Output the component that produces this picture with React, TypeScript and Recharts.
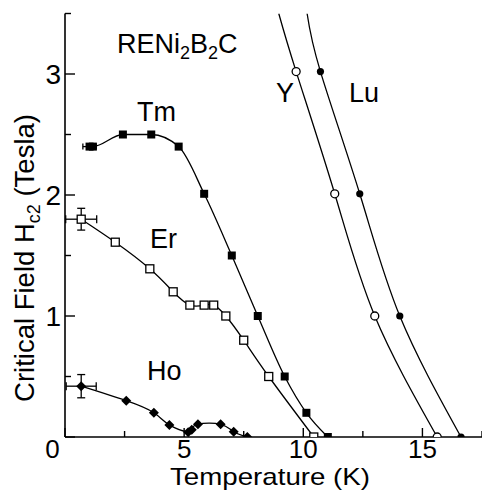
import React from 'react';
import { ComposedChart, Line, Scatter, XAxis, YAxis, ErrorBar } from 'recharts';

const FONT = '"Liberation Sans", Arial, Helvetica, sans-serif';

// Axis ticks
const xTicks = [0, 2.5, 5, 7.5, 10, 12.5, 15, 17.5];
const xLabels = [0, 5, 10, 15];
const yTicks = [0, 0.5, 1, 1.5, 2, 2.5, 3, 3.5];
const yLabels = [1, 2, 3];

// Tm (filled squares)
const tmT = [1.03, 1.17, 2.43, 3.62, 4.77, 5.84, 7.0, 8.09, 9.22, 10.13, 11.03];
const tmH = [2.4, 2.4, 2.5, 2.5, 2.4, 2.01, 1.5, 1.0, 0.5, 0.2, 0];
const tmErrT = [1.03];
const tmErrH = [2.4];
const tmErrX = [0.28];
const tmErrY = [0];

// Er (open squares)
const erT = [0.68, 2.11, 3.56, 4.54, 5.24, 5.84, 6.24, 6.75, 7.5, 8.55, 10.44];
const erH = [1.8, 1.61, 1.39, 1.2, 1.09, 1.09, 1.09, 1.0, 0.8, 0.5, 0];
const erErrT = [0.68];
const erErrH = [1.8];
const erErrX = [0.65];
const erErrY = [0.09];

// Ho (filled diamonds)
const hoT = [0.68, 2.57, 3.73, 4.38, 5.17, 5.32, 5.58, 6.53, 7.08, 7.65];
const hoH = [0.42, 0.3, 0.2, 0.1, 0.04, 0.06, 0.105, 0.105, 0.044, 0];
const hoErrT = [0.68];
const hoErrH = [0.42];
const hoErrX = [0.63];
const hoErrY = [0.096];

// Y (open circles); first entry is where the curve leaves the frame (no marker)
const yCurveT = [8.97, 9.7, 11.32, 13.0, 15.62];
const yCurveH = [3.5, 3.02, 2.01, 1.0, 0];
const yMarkT = [9.7, 11.32, 13.0, 15.62];
const yMarkH = [3.02, 2.01, 1.0, 0];

// Lu (filled circles)
const luCurveT = [10.16, 10.72, 12.37, 14.05, 16.62];
const luCurveH = [3.5, 3.02, 2.01, 1.0, 0];
const luMarkT = [10.72, 12.37, 14.05, 16.62];
const luMarkH = [3.02, 2.01, 1.0, 0];

const pts = (T: number[], H: number[]) => T.map((t, i) => ({ T: t, H: H[i] }));
const errPts = (T: number[], H: number[], ex: number[], ey: number[]) =>
  T.map((t, i) => ({ T: t, H: H[i], ex: ex[i] || undefined, ey: ey[i] || undefined }));

const BottomTick = (props: any) => {
  const { x, y, payload } = props;
  const v = payload.value;
  const major = v % 5 === 0;
  return (
    <g>
      <line x1={x} y1={y} x2={x} y2={y - (major ? 9 : 6)} stroke="#000" strokeWidth={1.4} />
      {xLabels.includes(v) && (
        <text x={v === 0 ? x - 12.5 : x} y={y + 21} textAnchor="middle" fontSize={26} fontFamily={FONT} fill="#000">
          {v}
        </text>
      )}
    </g>
  );
};

const TopTick = (props: any) => {
  const { x, y, payload } = props;
  const major = payload.value % 5 === 0;
  return <line x1={x} y1={y} x2={x} y2={y + (major ? 9 : 6)} stroke="#000" strokeWidth={1.4} />;
};

const LeftTick = (props: any) => {
  const { x, y, payload } = props;
  const v = payload.value;
  const major = Number.isInteger(v);
  return (
    <g>
      <line x1={x} y1={y} x2={x + (major ? 10 : 6)} y2={y} stroke="#000" strokeWidth={1.4} />
      {yLabels.includes(v) && (
        <text x={x - 4} y={y + 10} textAnchor="end" fontSize={28} fontFamily={FONT} fill="#000">
          {v}
        </text>
      )}
    </g>
  );
};

const RightTick = (props: any) => {
  const { x, y, payload } = props;
  const major = Number.isInteger(payload.value);
  return <line x1={x} y1={y} x2={x - (major ? 10 : 6)} y2={y} stroke="#000" strokeWidth={1.4} />;
};

const FilledSquare = (p: any) => <rect x={p.cx - 4} y={p.cy - 4} width={8} height={8} fill="#000" />;
const OpenSquare = (p: any) => (
  <rect x={p.cx - 4} y={p.cy - 4} width={8} height={8} fill="#fff" stroke="#000" strokeWidth={1.3} />
);
const Diamond = (p: any) => (
  <path d={`M${p.cx},${p.cy - 5}L${p.cx + 5},${p.cy}L${p.cx},${p.cy + 5}L${p.cx - 5},${p.cy}Z`} fill="#000" />
);
const OpenCircle = (p: any) => <circle cx={p.cx} cy={p.cy} r={4} fill="#fff" stroke="#000" strokeWidth={1.3} />;
const FilledCircle = (p: any) => <circle cx={p.cx} cy={p.cy} r={3.6} fill="#000" />;
const NoShape = () => <g />;

const lineProps = {
  dataKey: 'H',
  stroke: '#000',
  strokeWidth: 1.3,
  dot: false,
  activeDot: false,
  isAnimationActive: false,
  legendType: 'none' as const,
};

export default function App() {
  return (
    <div style={{ position: 'fixed', left: 0, top: 0, width: 482, height: 490, background: '#fff' }}>
      <ComposedChart
        width={482}
        height={490}
        margin={{ top: 13.5, right: 0, bottom: 0, left: 0 }}
      >
        <XAxis
          xAxisId="b"
          dataKey="T"
          type="number"
          domain={[0, 17.5]}
          ticks={xTicks}
          interval={0}
          allowDataOverflow
          height={53}
          tickSize={0}
          tickMargin={0}
          tickLine={false}
          axisLine={{ stroke: '#000', strokeWidth: 1.6 }}
          tick={(p: any) => <BottomTick {...p} />}
        />
        <XAxis
          xAxisId="t"
          orientation="top"
          dataKey="T"
          type="number"
          domain={[0, 17.5]}
          ticks={xTicks}
          interval={0}
          allowDataOverflow
          height={0}
          tickSize={0}
          tickMargin={0}
          tickLine={false}
          axisLine={{ stroke: '#000', strokeWidth: 1.4 }}
          tick={(p: any) => <TopTick {...p} />}
        />
        <YAxis
          yAxisId="l"
          type="number"
          domain={[0, 3.5]}
          ticks={yTicks}
          interval={0}
          allowDataOverflow
          width={65}
          tickSize={0}
          tickMargin={0}
          tickLine={false}
          axisLine={{ stroke: '#000', strokeWidth: 1.6 }}
          tick={(p: any) => <LeftTick {...p} />}
        />
        <YAxis
          yAxisId="r"
          orientation="right"
          type="number"
          domain={[0, 3.5]}
          ticks={yTicks}
          interval={0}
          allowDataOverflow
          width={0}
          tickSize={0}
          tickMargin={0}
          tickLine={false}
          axisLine={false}
          tick={(p: any) => <RightTick {...p} />}
        />

        <Line {...lineProps} xAxisId="b" yAxisId="l" data={pts(tmT, tmH)} type="monotone" />
        <Line {...lineProps} xAxisId="b" yAxisId="l" data={pts(erT, erH)} type="natural" />
        <Line {...lineProps} xAxisId="b" yAxisId="l" data={pts(hoT, hoH)} type="natural" />
        <Line {...lineProps} xAxisId="b" yAxisId="l" data={pts(yCurveT, yCurveH)} type="natural" />
        <Line {...lineProps} xAxisId="b" yAxisId="l" data={pts(luCurveT, luCurveH)} type="natural" />

        <Scatter xAxisId="b" yAxisId="l" dataKey="H" data={errPts(tmErrT, tmErrH, tmErrX, tmErrY)} shape={NoShape} isAnimationActive={false}>
          <ErrorBar dataKey="ex" direction="x" width={3} stroke="#000" strokeWidth={1.3} />
        </Scatter>
        <Scatter xAxisId="b" yAxisId="l" dataKey="H" data={errPts(erErrT, erErrH, erErrX, erErrY)} shape={NoShape} isAnimationActive={false}>
          <ErrorBar dataKey="ex" direction="x" width={4} stroke="#000" strokeWidth={1.3} />
          <ErrorBar dataKey="ey" direction="y" width={4} stroke="#000" strokeWidth={1.3} />
        </Scatter>
        <Scatter xAxisId="b" yAxisId="l" dataKey="H" data={errPts(hoErrT, hoErrH, hoErrX, hoErrY)} shape={NoShape} isAnimationActive={false}>
          <ErrorBar dataKey="ex" direction="x" width={4} stroke="#000" strokeWidth={1.3} />
          <ErrorBar dataKey="ey" direction="y" width={4} stroke="#000" strokeWidth={1.3} />
        </Scatter>

        <Scatter xAxisId="b" yAxisId="l" dataKey="H" data={pts(tmT, tmH)} shape={FilledSquare} isAnimationActive={false} />
        <Scatter xAxisId="b" yAxisId="l" dataKey="H" data={pts(erT, erH)} shape={OpenSquare} isAnimationActive={false} />
        <Scatter xAxisId="b" yAxisId="l" dataKey="H" data={pts(hoT, hoH)} shape={Diamond} isAnimationActive={false} />
        <Scatter xAxisId="b" yAxisId="l" dataKey="H" data={pts(yMarkT, yMarkH)} shape={OpenCircle} isAnimationActive={false} />
        <Scatter xAxisId="b" yAxisId="l" dataKey="H" data={pts(luMarkT, luMarkH)} shape={FilledCircle} isAnimationActive={false} />
      </ComposedChart>

      <svg
        width={482}
        height={490}
        style={{ position: 'absolute', left: 0, top: 0, pointerEvents: 'none' }}
        fontFamily={FONT}
        fill="#000"
      >
        <text x={117} y={53} fontSize={27}>
          RENi<tspan fontSize={18} dy={6}>2</tspan>
          <tspan dy={-6}>B</tspan>
          <tspan fontSize={18} dy={6}>2</tspan>
          <tspan dy={-6}>C</tspan>
        </text>
        <text x={137} y={121} fontSize={27}>Tm</text>
        <text x={150} y={248} fontSize={27}>Er</text>
        <text x={147} y={380} fontSize={27}>Ho</text>
        <text x={276} y={102} fontSize={27}>Y</text>
        <text x={349} y={102} fontSize={27}>Lu</text>
        <text x={170} y={484.8} fontSize={24} textLength={200} lengthAdjust="spacingAndGlyphs">Temperature (K)</text>
        <text transform="translate(34,258) rotate(-90)" fontSize={27.5} textAnchor="middle">
          Critical Field H<tspan fontSize={18} dy={6}>c2</tspan>
          <tspan dy={-6}> (Tesla)</tspan>
        </text>
      </svg>
    </div>
  );
}
